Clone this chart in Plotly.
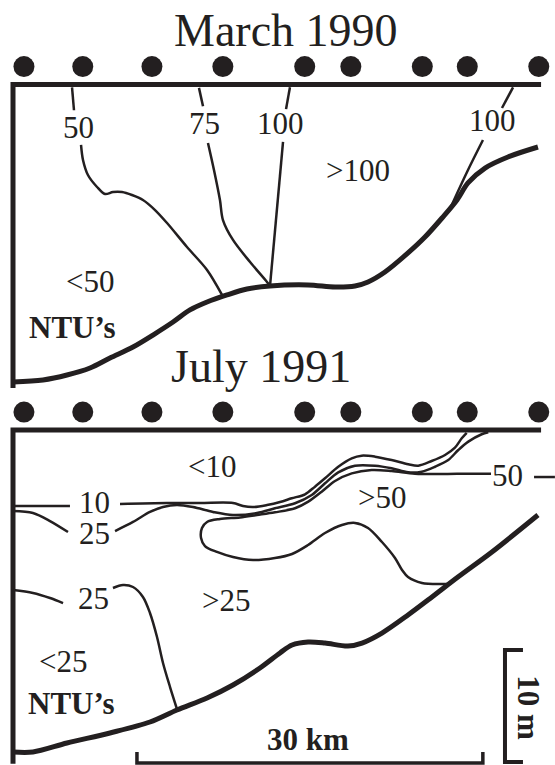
import plotly.graph_objects as go

INK = "#231f20"
SERIF = "Liberation Serif, Times New Roman, serif"

# Section coordinates: kilometres offshore (x) and metres below the surface (y)
KM_RANGE = [-1.1275, 47.008]
MAR_DEPTH_RANGE = [60.76, -7.545]
JUL_DEPTH_RANGE = [29.91, -38.39]

TITLES = ["March 1990", "July 1991"]
TITLE_KM = [23.68, 21.51]
TITLE_M = [-4.78, -5.63]

STATIONS_KM = [0.95, 6.05, 12.05, 18.2, 25.3, 29.3, 35.5, 39.4, 45.6]
STATION_M = -1.6
SURFACE_END_KM = 45.8
MAR_WALL_M = 27.1
JUL_WALL_M = 29.8

# ---- March 1990 ----
MAR_BED_KM = [0, 2.60, 4.68, 6.68, 8.41, 10.41, 12.14, 13.88, 15.35, 16.83, 18.56, 20.29,
              22.29, 25.59, 27.93, 29.66, 30.79, 32.26, 34.26, 35.73, 37.21, 38.51, 39.46,
              40.94, 42.93, 45.53]
MAR_BED_M = [26.56, 26.38, 25.94, 25.31, 24.42, 23.44, 22.37, 21.21, 20.13, 19.42, 18.79,
             18.26, 17.99, 17.90, 18.08, 17.99, 17.63, 16.74, 15.04, 13.62, 11.92, 10.31,
             8.79, 7.46, 6.47, 5.58]

MAR_50_TOP_KM = [5.12, 5.29]
MAR_50_TOP_M = [0.25, 2.3]
MAR_50_KM = [5.90, 6.07, 6.50, 7.29, 7.98, 8.67, 9.45, 10.32, 11.27, 12.32, 13.36, 15.09,
             16.83, 18.13]
MAR_50_M = [5.40, 6.74, 8.08, 9.15, 9.78, 9.60, 9.60, 9.87, 10.31, 11.21, 12.37, 14.51,
            16.56, 18.79]

MAR_75_TOP_KM = [16.13, 16.48]
MAR_75_TOP_M = [0.3, 1.95]
MAR_75_KM = [16.91, 17.43, 17.95, 18.21, 19.08, 20.56, 22.03, 22.29]
MAR_75_M = [5.22, 7.63, 10.31, 12.10, 13.88, 15.85, 17.63, 17.99]

MAR_100A_TOP_KM = [24.02, 23.68]
MAR_100A_TOP_M = [0.25, 2.2]
MAR_100A_KM = [23.42, 22.29]
MAR_100A_M = [5.13, 17.99]

MAR_100B_TOP_KM = [43.37, 42.41]
MAR_100B_TOP_M = [0.25, 2.1]
MAR_100B_KM = [40.76, 39.38, 37.90]
MAR_100B_M = [4.96, 7.81, 11.1]

MAR_LABELS = ["50", "75", "100", "100", ">100", "<50"]
MAR_LABEL_KM = [5.64, 16.65, 23.24, 41.63, 29.92, 6.68]
MAR_LABEL_M = [3.85, 3.5, 3.5, 3.25, 7.7, 17.55]
MAR_UNIT_KM, MAR_UNIT_M = 5.12, 21.7

# ---- July 1991 ----
JUL_BED_KM = [0, 1.73, 4.68, 8.41, 11.88, 14.22, 16.83, 19.08, 21.42, 23.16, 24.20, 25.59,
              27.06, 29.05, 30.27, 32.00, 34.26, 36.34, 38.59, 41.54, 45.53]
JUL_BED_M = [28.75, 28.75, 27.95, 27.05, 26.07, 25.0, 23.93, 22.77, 21.25, 19.91, 19.20,
             18.93, 19.02, 19.29, 19.02, 18.13, 16.52, 14.91, 13.13, 10.89, 7.59]

JUL_10_LEFT_KM = [0, 4.94]
JUL_10_LEFT_M = [6.79, 6.79]
JUL_10_KM = [9.28, 13.36, 16.22, 19.08, 19.95, 20.82, 22.03, 23.16, 24.17, 25.33, 26.19,
             27.06, 28.21, 29.38, 30.24, 31.40, 32.84, 34.28, 35.15, 36.31, 37.47, 38.33,
             38.92, 39.35]
JUL_10_M = [6.61, 6.52, 6.52, 6.52, 6.79, 6.88, 6.70, 6.43, 6.10, 5.74, 5.06, 4.31, 3.28,
            2.53, 2.29, 2.38, 2.68, 3.06, 3.19, 2.77, 2.23, 1.58, 0.74, 0.25]

JUL_25_LEFT_KM = [0, 1.73, 3.21, 4.77]
JUL_25_LEFT_M = [7.23, 7.41, 8.13, 9.11]
JUL_25_KM = [8.85, 10.41, 11.88, 13.01, 14.22, 15.61, 17.35, 19.08, 21.16, 22.72, 24.46,
             25.91, 27.06, 28.21, 29.66, 31.40, 32.84, 34.28, 35.45, 36.60, 37.75, 38.62,
             39.49, 40.65, 41.22]
JUL_25_M = [9.02, 8.21, 7.32, 6.88, 6.70, 6.88, 7.32, 7.59, 7.41, 6.99, 6.54, 5.80, 4.76,
            3.78, 3.19, 3.19, 3.42, 3.78, 3.72, 3.28, 2.68, 1.79, 1.04, 0.38, 0.2]

JUL_50_KM = [41.46, 39.49, 37.18, 34.87, 32.84, 31.11, 29.38, 27.93, 26.77, 25.61, 24.46,
             22.72, 21.16, 19.69, 17.95, 16.83, 16.39, 16.31, 16.65, 17.69, 19.08, 20.82,
             22.72, 24.20, 25.59, 27.06, 28.53, 29.66, 30.79, 32.00, 33.13, 33.74, 34.26,
             35.47, 37.21, 37.73]
JUL_50_M = [3.90, 3.90, 3.93, 3.90, 3.66, 3.57, 3.87, 4.55, 5.51, 6.40, 6.99, 7.35, 7.59,
            7.81, 7.95, 8.21, 8.75, 9.64, 10.36, 10.89, 11.34, 11.61, 11.43, 11.07, 10.27,
            9.20, 8.48, 8.30, 8.75, 10.0, 11.43, 12.50, 13.13, 13.66, 13.75, 13.75]
JUL_50_TAIL_KM = [45.19, 47.0]
JUL_50_TAIL_M = [4.20, 4.20]

JUL_25B_LEFT_KM = [0, 1.73, 3.21, 4.34]
JUL_25B_LEFT_M = [14.29, 14.55, 15.0, 15.45]
JUL_25B_KM = [8.67, 9.54, 10.41, 11.27, 11.88, 12.49, 13.01, 13.62, 14.22]
JUL_25B_M = [14.11, 13.84, 14.02, 14.91, 16.34, 18.48, 20.80, 22.95, 24.91]

JUL_LABELS = ["<10", "10", "25", ">50", "50", ">25", "25", "<25"]
JUL_LABEL_KM = [17.26, 7.03, 7.11, 32.00, 42.93, 18.47, 6.94, 4.34]
JUL_LABEL_M = [3.3, 6.5, 9.2, 6.05, 4.1, 15.25, 15.08, 20.7]
JUL_UNIT_KM, JUL_UNIT_M = 5.03, 24.4

# Scale bars (drawn on the July axes)
SCALE_KM = 30
SCALE_KM_START = 10.75
SCALE_BAR_M = 29.73
SCALE_TICK_M = 28.75
SCALE_M = 10
SCALE_M_KM = 42.67
SCALE_M_TOP = 19.64
SCALE_SERIF_KM = 1.56

fig = go.Figure()


def line(x, y, axis, width, smooth=True):
    fig.add_trace(go.Scatter(
        x=x, y=y, yaxis=axis, mode="lines", hoverinfo="skip", showlegend=False,
        line=dict(color=INK, width=width, shape="spline" if smooth else "linear",
                  smoothing=0.9),
    ))


def esc(s):
    return s.replace("<", "&lt;").replace(">", "&gt;")


def label(text, x, y, axis, size=31, bold=False, angle=0):
    t = esc(text)
    if bold:
        t = "<b>" + t + "</b>"
    fig.add_annotation(
        x=x, y=y, xref="x", yref=axis, text=t, showarrow=False, textangle=angle,
        xanchor="center", yanchor="middle",
        font=dict(family=SERIF, size=size, color=INK),
    )


for axis, wall in (("y", MAR_WALL_M), ("y2", JUL_WALL_M)):
    # frame: coast wall and sea surface
    line([0, 0, SURFACE_END_KM], [wall, 0, 0], axis, 5, smooth=False)
    fig.add_trace(go.Scatter(
        x=STATIONS_KM, y=[STATION_M] * len(STATIONS_KM), yaxis=axis, mode="markers",
        hoverinfo="skip", showlegend=False,
        marker=dict(color=INK, size=21, line=dict(width=0)),
    ))

# March 1990 section
line(MAR_BED_KM, MAR_BED_M, "y", 5)
for xs, ys in ((MAR_50_TOP_KM, MAR_50_TOP_M), (MAR_50_KM, MAR_50_M),
               (MAR_75_TOP_KM, MAR_75_TOP_M), (MAR_75_KM, MAR_75_M),
               (MAR_100A_TOP_KM, MAR_100A_TOP_M), (MAR_100A_KM, MAR_100A_M),
               (MAR_100B_TOP_KM, MAR_100B_TOP_M), (MAR_100B_KM, MAR_100B_M)):
    line(xs, ys, "y", 2.5)
for t, x, y in zip(MAR_LABELS, MAR_LABEL_KM, MAR_LABEL_M):
    label(t, x, y, "y")
label("NTU’s", MAR_UNIT_KM, MAR_UNIT_M, "y", bold=True)
label(TITLES[0], TITLE_KM[0], TITLE_M[0], "y", size=46)

# July 1991 section
line(JUL_BED_KM, JUL_BED_M, "y2", 5)
for xs, ys in ((JUL_10_LEFT_KM, JUL_10_LEFT_M), (JUL_10_KM, JUL_10_M),
               (JUL_25_LEFT_KM, JUL_25_LEFT_M), (JUL_25_KM, JUL_25_M),
               (JUL_50_KM, JUL_50_M), (JUL_50_TAIL_KM, JUL_50_TAIL_M),
               (JUL_25B_LEFT_KM, JUL_25B_LEFT_M), (JUL_25B_KM, JUL_25B_M)):
    line(xs, ys, "y2", 2.5)
for t, x, y in zip(JUL_LABELS, JUL_LABEL_KM, JUL_LABEL_M):
    label(t, x, y, "y2")
label("NTU’s", JUL_UNIT_KM, JUL_UNIT_M, "y2", bold=True)
label(TITLES[1], TITLE_KM[1], TITLE_M[1], "y2", size=46)

# 30 km bar
km_end = SCALE_KM_START + SCALE_KM
line([SCALE_KM_START, SCALE_KM_START, km_end, km_end],
     [SCALE_TICK_M, SCALE_BAR_M, SCALE_BAR_M, SCALE_TICK_M], "y2", 3.5, smooth=False)
label(f"{SCALE_KM} km", (SCALE_KM_START + km_end) / 2 - 0.2, 27.6, "y2", bold=True)

# 10 m bar
m_end = SCALE_M_TOP + SCALE_M
line([SCALE_M_KM + SCALE_SERIF_KM, SCALE_M_KM, SCALE_M_KM, SCALE_M_KM + SCALE_SERIF_KM],
     [SCALE_M_TOP, SCALE_M_TOP, m_end, m_end], "y2", 4, smooth=False)
label(f"{SCALE_M} m", 44.75, (SCALE_M_TOP + m_end) / 2 + 0.2, "y2", bold=True, angle=90)

hidden = dict(visible=False, fixedrange=True, showgrid=False, zeroline=False)
fig.update_layout(
    width=555, height=765, margin=dict(l=0, r=0, t=0, b=0, pad=0),
    paper_bgcolor="white", plot_bgcolor="white",
    xaxis=dict(range=KM_RANGE, domain=[0, 1], **hidden),
    yaxis=dict(range=MAR_DEPTH_RANGE, domain=[0, 1], **hidden),
    yaxis2=dict(range=JUL_DEPTH_RANGE, domain=[0, 1], overlaying="y", **hidden),
)

fig.write_html("out.html")
